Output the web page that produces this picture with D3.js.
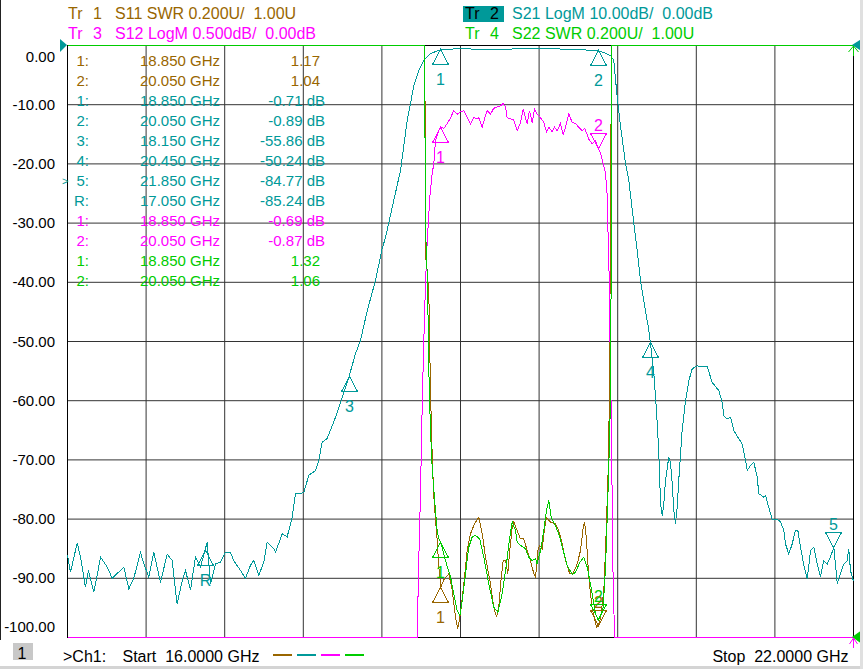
<!DOCTYPE html>
<html>
<head>
<meta charset="utf-8">
<script src="https://cdn.jsdelivr.net/npm/d3@7"></script>
<style>
  body { margin: 0; background: #fff; }
  svg text { font-family: "Liberation Sans", Arial, sans-serif; white-space: pre; }
</style>
</head>
<body>
<div class="canvas"></div>
<script>
// sweep + scale settings
const freqStart = 16
const freqStop = 22
const freqGrid = [16, 16.6, 17.2, 17.8, 18.4, 19, 19.6, 20.2, 20.8, 21.4, 22]
const dbTicks = [0, -10, -20, -30, -40, -50, -60, -70, -80, -90, -100]

// [GHz, dB]  Tr 2  S21 LogM 10 dB/div, ref 0 dB at top
const s21 = [
  [16.000, -86.1], [16.023, -89.0], [16.061, -85.3], [16.074, -84.0], [16.099, -86.4], [16.137, -91.5],
  [16.160, -88.7], [16.201, -92.3], [16.227, -89.5], [16.252, -86.4], [16.303, -88.1], [16.341, -90.0],
  [16.379, -89.2], [16.430, -88.1], [16.468, -91.8], [16.506, -90.0], [16.557, -85.6], [16.582, -87.5],
  [16.621, -89.8], [16.659, -85.6], [16.710, -90.7], [16.761, -85.9], [16.799, -87.0], [16.824, -92.0],
  [16.837, -94.3], [16.876, -90.4], [16.901, -88.7], [16.939, -92.0], [16.977, -86.4], [17.015, -88.1],
  [17.050, -85.24], [17.066, -83.9], [17.092, -90.9], [17.130, -87.5], [17.168, -87.3], [17.206, -85.6],
  [17.244, -85.6], [17.269, -87.0], [17.321, -88.7], [17.359, -90.0], [17.397, -87.8], [17.422, -87.0],
  [17.460, -89.5], [17.498, -87.3], [17.524, -83.9], [17.550, -84.5], [17.575, -85.0], [17.588, -85.6],
  [17.639, -82.5], [17.677, -83.0], [17.715, -79.7], [17.740, -75.7], [17.779, -75.7], [17.804, -75.5],
  [17.842, -72.6], [17.893, -71.8], [17.918, -70.1], [17.944, -67.0], [17.982, -66.4], [18.046, -62.8],
  [18.097, -59.4], [18.150, -55.86], [18.198, -52.1], [18.237, -49.8], [18.288, -44.8], [18.351, -39.7],
  [18.402, -34.3], [18.427, -32.5], [18.542, -21.1], [18.593, -12.7], [18.644, -6.8], [18.682, -4.2],
  [18.720, -2.5], [18.771, -1.4], [18.822, -0.9], [18.850, -0.71], [18.900, -0.62], [19.000, -0.56],
  [19.150, -0.62], [19.280, -0.68], [19.430, -0.56], [19.534, -0.50], [19.650, -0.56], [19.786, -0.60],
  [19.900, -0.66], [19.967, -0.78], [20.050, -0.89], [20.094, -1.2], [20.145, -1.7], [20.170, -2.5],
  [20.196, -8.7], [20.208, -11.0], [20.221, -13.5], [20.260, -20.0], [20.285, -22.8], [20.323, -30.0],
  [20.349, -34.6], [20.374, -39.7], [20.412, -44.8], [20.437, -48.0], [20.450, -50.24], [20.476, -55.5],
  [20.489, -59.4], [20.502, -63.9], [20.514, -69.0], [20.527, -77.4], [20.540, -79.4], [20.552, -77.4],
  [20.565, -73.5], [20.590, -69.5], [20.603, -70.4], [20.616, -74.0], [20.628, -78.5], [20.641, -80.8],
  [20.654, -78.0], [20.666, -73.5], [20.692, -65.0], [20.718, -60.0], [20.743, -56.6], [20.769, -54.6],
  [20.807, -54.1], [20.845, -54.3], [20.883, -54.2], [20.921, -56.9], [20.972, -58.3], [20.998, -60.3],
  [21.010, -62.5], [21.036, -63.1], [21.061, -62.8], [21.086, -65.0], [21.124, -66.4], [21.150, -67.3],
  [21.176, -70.1], [21.189, -71.8], [21.214, -70.9], [21.239, -70.4], [21.265, -72.9], [21.277, -75.7],
  [21.315, -76.3], [21.328, -76.0], [21.353, -78.0], [21.379, -80.0], [21.418, -80.0], [21.443, -80.5],
  [21.468, -81.9], [21.481, -84.2], [21.506, -85.9], [21.532, -84.2], [21.557, -81.9], [21.575, -81.9],
  [21.595, -84.7], [21.621, -87.8], [21.647, -90.1], [21.672, -85.3], [21.697, -84.7], [21.723, -87.6],
  [21.748, -89.8], [21.773, -87.0], [21.799, -87.6], [21.824, -86.4], [21.850, -84.77], [21.876, -90.9],
  [21.901, -89.2], [21.926, -87.6], [21.952, -87.0], [21.964, -85.0], [21.977, -88.7], [22.000, -90.5]
]

// [GHz, dB]  Tr 3  S12 LogM 0.5 dB/div, ref 0 dB at top
const s12 = [
  [16.000, -60], [18.669, -5.2], [18.682, -4.33], [18.695, -3.76], [18.708, -3.02], [18.720, -2.49],
  [18.733, -2.01], [18.746, -1.65], [18.766, -1.28], [18.784, -1.08], [18.796, -1.0], [18.809, -0.80],
  [18.834, -0.72], [18.850, -0.69], [18.873, -0.70], [18.898, -0.66], [18.924, -0.61], [18.949, -0.55],
  [18.975, -0.58], [19.000, -0.56], [19.025, -0.55], [19.051, -0.61], [19.076, -0.66], [19.102, -0.61],
  [19.127, -0.62], [19.140, -0.61], [19.166, -0.69], [19.191, -0.59], [19.204, -0.55], [19.229, -0.58],
  [19.254, -0.53], [19.280, -0.52], [19.305, -0.51], [19.326, -0.49], [19.344, -0.52], [19.356, -0.61],
  [19.382, -0.62], [19.407, -0.63], [19.433, -0.72], [19.458, -0.65], [19.479, -0.54], [19.496, -0.61],
  [19.509, -0.66], [19.527, -0.55], [19.547, -0.65], [19.565, -0.54], [19.585, -0.58], [19.611, -0.61],
  [19.636, -0.65], [19.656, -0.73], [19.674, -0.69], [19.700, -0.73], [19.718, -0.69], [19.738, -0.72],
  [19.763, -0.66], [19.784, -0.75], [19.802, -0.69], [19.827, -0.58], [19.853, -0.65], [19.878, -0.66],
  [19.903, -0.69], [19.929, -0.72], [19.947, -0.70], [19.967, -0.75], [19.979, -0.79], [20.005, -0.83],
  [20.031, -0.80], [20.050, -0.87], [20.069, -0.91], [20.089, -1.0], [20.107, -1.08], [20.120, -1.27],
  [20.127, -1.62], [20.135, -1.96], [20.140, -2.41], [20.149, -3.0], [20.158, -3.84], [20.164, -4.43],
  [20.176, -5.2], [22.000, -60]
]

// [GHz, SWR]  Tr 1  S11 SWR 0.2 U/div, ref 1.00 at bottom
const s11 = [
  [16.000, 40], [18.728, 3.05], [18.732, 2.3], [18.758, 2.17], [18.771, 1.83], [18.784, 1.61],
  [18.796, 1.48], [18.809, 1.40], [18.822, 1.33], [18.834, 1.24], [18.850, 1.17], [18.878, 1.20],
  [18.911, 1.215], [18.937, 1.159], [18.962, 1.069], [18.979, 1.029], [19.000, 1.08], [19.025, 1.181],
  [19.051, 1.294], [19.076, 1.35], [19.107, 1.384], [19.140, 1.406], [19.166, 1.35], [19.191, 1.271],
  [19.229, 1.181], [19.254, 1.102], [19.275, 1.069], [19.292, 1.102], [19.311, 1.204], [19.326, 1.26],
  [19.344, 1.26], [19.361, 1.215], [19.376, 1.294], [19.395, 1.373], [19.407, 1.39], [19.433, 1.361],
  [19.458, 1.333], [19.483, 1.333], [19.509, 1.294], [19.534, 1.26], [19.560, 1.215], [19.573, 1.204],
  [19.590, 1.294], [19.605, 1.311], [19.624, 1.30], [19.641, 1.367], [19.656, 1.406], [19.687, 1.39],
  [19.725, 1.384], [19.750, 1.361], [19.776, 1.317], [19.802, 1.26], [19.834, 1.215], [19.860, 1.217],
  [19.891, 1.249], [19.916, 1.294], [19.937, 1.373], [19.947, 1.39], [19.960, 1.339], [19.979, 1.204],
  [20.005, 1.10], [20.023, 1.063], [20.038, 1.035], [20.050, 1.04], [20.069, 1.063], [20.094, 1.159],
  [20.107, 1.294], [20.120, 1.463], [20.132, 1.632], [20.147, 2.476], [20.151, 3.05], [22.000, 40]
]

// [GHz, SWR]  Tr 4  S22 SWR 0.2 U/div, ref 1.00 at bottom
const s22 = [
  [16.000, 40], [18.728, 3.05], [18.730, 2.42], [18.748, 2.2], [18.760, 1.87], [18.771, 1.70],
  [18.784, 1.57], [18.796, 1.50], [18.809, 1.43], [18.822, 1.36], [18.834, 1.334], [18.850, 1.32],
  [18.885, 1.26], [18.924, 1.204], [18.949, 1.148], [18.975, 1.091], [18.995, 1.074], [19.013, 1.125],
  [19.038, 1.215], [19.063, 1.305], [19.089, 1.339], [19.115, 1.345], [19.147, 1.333], [19.178, 1.271],
  [19.216, 1.181], [19.254, 1.102], [19.285, 1.085], [19.318, 1.148], [19.351, 1.249], [19.376, 1.339],
  [19.395, 1.39], [19.420, 1.361], [19.433, 1.322], [19.458, 1.311], [19.496, 1.30], [19.521, 1.271],
  [19.547, 1.26], [19.573, 1.266], [19.585, 1.249], [19.611, 1.294], [19.636, 1.361], [19.656, 1.429],
  [19.674, 1.463], [19.692, 1.406], [19.725, 1.378], [19.758, 1.339], [19.784, 1.294], [19.815, 1.243],
  [19.853, 1.213], [19.878, 1.22], [19.911, 1.254], [19.941, 1.271], [19.967, 1.238], [19.992, 1.181],
  [20.013, 1.125], [20.031, 1.08], [20.050, 1.06], [20.069, 1.074], [20.089, 1.10], [20.107, 1.238],
  [20.120, 1.406], [20.132, 1.575], [20.145, 1.80], [20.153, 2.476], [20.156, 3.05], [22.000, 40]
]

// markers: [name, GHz, value, triangle direction]
const s11Marks = [['1', 18.85, 1.17, 'up'], ['2', 20.05, 1.04, 'dn']]
const s21Marks = [['1', 18.85, -0.71, 'up'], ['2', 20.05, -0.89, 'up'], ['3', 18.15, -55.86, 'up'],
  ['4', 20.45, -50.24, 'up'], ['5', 21.85, -84.77, 'dn'], ['R', 17.05, -85.24, 'up']]
const s12Marks = [['1', 18.85, -0.69, 'up'], ['2', 20.05, -0.87, 'dn']]
const s22Marks = [['1', 18.85, 1.32, 'up'], ['2', 20.05, 1.06, 'dn']]

const colS11 = '#996600'
const colS21 = '#009999'
const colS12 = '#ff00ff'
const colS22 = '#00cc00'
const gridColor = '#333'

const svg = d3.select('.canvas').append('svg')
  .attr('width', 863)
  .attr('height', 669)

const margin = { top: 45, left: 67 }
const graphWidth = 786
const graphHeight = 592

const graph = svg.append('g')
  .attr('transform', `translate(${margin.left}, ${margin.top})`)

const x = d3.scaleLinear().domain([freqStart, freqStop]).range([0, graphWidth])
const yS21 = d3.scaleLinear().domain([-100, 0]).range([graphHeight, 0]).clamp(true)
const yS12 = d3.scaleLinear().domain([-5, 0]).range([graphHeight, 0]).clamp(true)
const ySwr = d3.scaleLinear().domain([1, 3]).range([graphHeight, 0]).clamp(true)

// grid via axes
const xAxisGroup = graph.append('g').attr('transform', `translate(0, ${graphHeight})`)
xAxisGroup.call(d3.axisBottom(x).tickValues(freqGrid).tickSize(-graphHeight).tickFormat(''))
xAxisGroup.select('.domain').remove()
xAxisGroup.selectAll('line').attr('stroke', gridColor)

const yAxisGroup = graph.append('g')
yAxisGroup.call(d3.axisLeft(yS21).tickValues(dbTicks).tickSize(-graphWidth).tickPadding(12)
  .tickFormat(d => d.toFixed(2)))
yAxisGroup.select('.domain').remove()
yAxisGroup.selectAll('line').attr('stroke', gridColor)
yAxisGroup.attr('font-size', 15).attr('font-family', null).attr('color', '#000')
yAxisGroup.selectAll('text')
  .attr('dy', d => d === 0 ? '1.12em' : d === -100 ? '-0.35em' : '0.34em')

// frame
graph.append('rect')
  .attr('x', 0.5).attr('y', 0.5)
  .attr('width', graphWidth).attr('height', graphHeight)
  .attr('fill', 'none').attr('stroke', '#000')

// traces
const drawTrace = (data, y, color) => {
  graph.append('path')
    .datum(data)
    .attr('fill', 'none')
    .attr('stroke', color)
    .attr('stroke-width', 1)
    .attr('shape-rendering', 'crispEdges')
    .attr('d', d3.line().x(d => x(d[0]) + 0.5).y(d => y(d[1]) + 0.5))
}
drawTrace(s11, ySwr, colS11)
drawTrace(s21, yS21, colS21)
drawTrace(s12, yS12, colS12)
drawTrace(s22, ySwr, colS22)

// marker triangles
const drawMarkers = (marks, y, color) => {
  marks.forEach(([name, f, v, dir]) => {
    const px = Math.round(x(f)) + 0.5
    const py = Math.round(y(v)) + 0.5
    const h = dir === 'dn' ? -15 : 15
    graph.append('path')
      .attr('d', `M${px},${py}L${px - 8},${py + h}L${px + 8},${py + h}Z`)
      .attr('fill', 'none')
      .attr('stroke', color)
      .attr('shape-rendering', 'crispEdges')
    graph.append('text')
      .attr('x', px)
      .attr('y', dir === 'dn' ? py - 18 : py + 35)
      .attr('text-anchor', 'middle')
      .attr('font-size', 16)
      .attr('fill', color)
      .text(name)
  })
}
drawMarkers(s11Marks, ySwr, colS11)
drawMarkers(s21Marks, yS21, colS21)
drawMarkers(s12Marks, yS12, colS12)
drawMarkers(s22Marks, ySwr, colS22)

// marker readout table
const rows = [
  ...s11Marks.map(m => [m, colS11, '']),
  ...s21Marks.map(m => [m, colS21, ' dB']),
  ...s12Marks.map(m => [m, colS12, ' dB']),
  ...s22Marks.map(m => [m, colS22, ''])
]
const table = svg.append('g').attr('font-size', 15)
rows.forEach(([m, color, unit], i) => {
  const yy = 65.5 + i * 20
  table.append('text').attr('x', 89).attr('y', yy).attr('text-anchor', 'end').attr('fill', color).text(m[0] + ':')
  table.append('text').attr('x', 220).attr('y', yy).attr('text-anchor', 'end').attr('fill', color)
    .text(m[1].toFixed(3) + ' GHz')
  table.append('text').attr('x', unit ? 325 : 320).attr('y', yy).attr('text-anchor', 'end').attr('fill', color)
    .text(m[2].toFixed(2) + unit)
})
// active marker pointer (S21 marker 5)
table.append('text').attr('x', 62).attr('y', 185).attr('font-size', 11).attr('fill', colS21).text('>')

// trace headers
const header = svg.append('g').attr('font-size', 16)
header.append('rect').attr('x', 463).attr('y', 6).attr('width', 41).attr('height', 16).attr('fill', colS21)
const headers = [
  [68, 18.5, colS11, '1', 'S11 SWR 0.200U/  1.00U'],
  [68, 38.5, colS12, '3', 'S12 LogM 0.500dB/  0.00dB'],
  [465, 18.5, '#000', '2', 'S21 LogM 10.00dB/  0.00dB'],
  [465, 38.5, colS22, '4', 'S22 SWR 0.200U/  1.00U']
]
headers.forEach(([hx, hy, c, n, t]) => {
  header.append('text').attr('x', hx).attr('y', hy).attr('fill', c).text('Tr')
  header.append('text').attr('x', hx + 25).attr('y', hy).attr('fill', c).text(n)
  header.append('text').attr('x', hx + 47).attr('y', hy).attr('fill', c === '#000' ? colS21 : c).text(t)
})

// reference level arrows
svg.append('path').attr('d', 'M60,39L67,45L60,52Z').attr('fill', colS21)
svg.append('path').attr('d', 'M852,45L863,38L863,52Z').attr('fill', colS21)
svg.append('path').attr('d', 'M852,637L862,630L862,644Z').attr('fill', colS22)
svg.append('path').attr('d', 'M848.5,52L853.5,46L858.5,52M853.5,46V56').attr('stroke', colS22).attr('fill', 'none')
svg.append('path').attr('d', 'M849.5,644L853.5,638L857.5,644M853.5,638V648').attr('stroke', colS12).attr('fill', 'none')

// status line
const foot = svg.append('g').attr('font-size', 16)
foot.append('rect').attr('x', 13).attr('y', 643).attr('width', 20).attr('height', 17).attr('fill', '#c8c8c8')
foot.append('text').attr('x', 22).attr('y', 658.5).attr('text-anchor', 'middle').attr('fill', '#000').text('1')
foot.append('text').attr('x', 63).attr('y', 661.5).attr('fill', '#000').text('>Ch1:')
foot.append('text').attr('x', 122.5).attr('y', 661.5).attr('fill', '#000').text('Start  ' + freqStart.toFixed(4) + ' GHz')
foot.append('text').attr('x', 848.5).attr('y', 661.5).attr('text-anchor', 'end').attr('fill', '#000')
  .text('Stop  ' + freqStop.toFixed(4) + ' GHz')
;[colS11, colS21, colS12, colS22].forEach((c, i) => {
  foot.append('line')
    .attr('x1', 273 + i * 24).attr('x2', 292 + i * 24)
    .attr('y1', 655).attr('y2', 655)
    .attr('stroke', c).attr('stroke-width', 2)
})
svg.append('rect').attr('x', 0).attr('y', 666).attr('width', 863).attr('height', 3).attr('fill', '#d4d4d4')
svg.append('rect').attr('x', 860).attr('y', 0).attr('width', 3).attr('height', 669).attr('fill', '#e0e0e0')
svg.append('line').attr('x1', 0.5).attr('x2', 0.5).attr('y1', 0).attr('y2', 640).attr('stroke', '#222')
</script>
</body>
</html>
